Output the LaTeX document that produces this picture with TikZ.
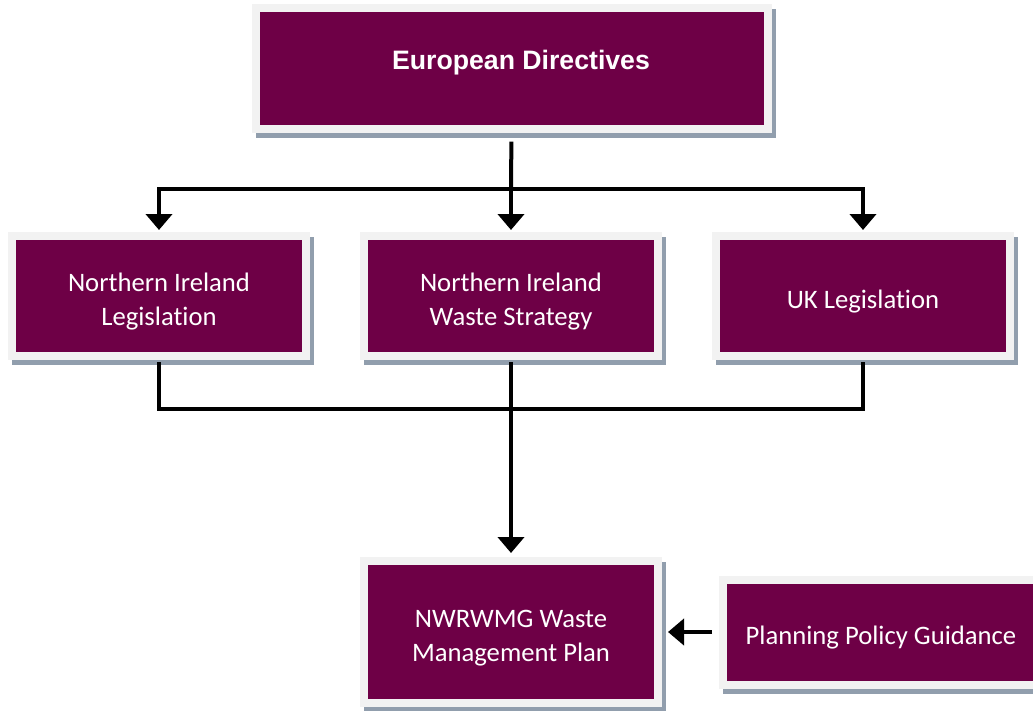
\documentclass[tikz,border=0pt]{standalone}
\usepackage{fontspec}
\setmainfont{Carlito}[Ligatures=NoCommon]
\newfontfamily\headfont{Liberation Sans}
\usepackage{tikz}
\usetikzlibrary{arrows.meta}
\usetikzlibrary{shadows}
\definecolor{plum}{RGB}{110,0,70}
\definecolor{rim}{RGB}{242,242,242}
\definecolor{shade}{RGB}{145,158,173}
\newcommand{\lift}{\rule{0pt}{22pt}}

\begin{document}
\begin{tikzpicture}[x=0.75pt, y=-0.75pt,
  card/.style={draw=rim, line width=6pt, fill=plum, text=white,
    align=center, font=\fontsize{20}{25.5}\selectfont, inner sep=0pt,
    drop shadow={shadow xshift=3pt, shadow yshift=-3.75pt, opacity=1,
      fill=shade, draw=shade, line width=6pt}},
  link/.style={line width=3pt, black},
  feed/.style={link, -{Triangle[width=19.5pt,length=12pt]}}]
  \useasboundingbox (0,0) rectangle (1033,711);
  % boxes
  \node[card, minimum width=384pt, minimum height=90.75pt] (eu) at (512,68.5) {};
  \node[text=white, font=\headfont\bfseries\fontsize{20}{25}\selectfont] (eutext) at (521,63) {European Directives};
  \node[card, minimum width=220.5pt, minimum height=90pt] (nil) at (159,296) {\lift Northern Ireland\\Legislation};
  \node[card, minimum width=220.5pt, minimum height=90pt] (nws) at (511,296) {\lift Northern Ireland\\Waste Strategy};
  \node[card, minimum width=220.5pt, minimum height=90pt] (uk) at (863,296) {\lift UK Legislation};
  \node[card, minimum width=220.5pt, minimum height=106.5pt] (plan) at (511,632) {\lift NWRWMG Waste\\Management Plan};
  \node[card, minimum width=237pt, minimum height=78.75pt] (ppg) at (881,632) {\lift Planning Policy Guidance};
  % connectors
  \coordinate (split) at (511,189);
  \coordinate (join) at (511,409);
  \draw[link, shorten <=6.5pt] (eu) -- (split);
  \draw[feed, shorten >=1.5pt] (split) -| (nil);
  \draw[feed, shorten >=1.5pt] (split) -- (nws);
  \draw[feed, shorten >=1.5pt] (split) -| (uk);
  \draw[link, shorten <=1.5pt] (nil) |- (join);
  \draw[link, shorten <=1.5pt] (uk) |- (join);
  \draw[feed, shorten <=1.5pt, shorten >=3pt] (nws) -- (plan);
  \draw[feed, shorten <=5.25pt, shorten >=4.5pt] (ppg) -- (plan);
\end{tikzpicture}
\end{document}
